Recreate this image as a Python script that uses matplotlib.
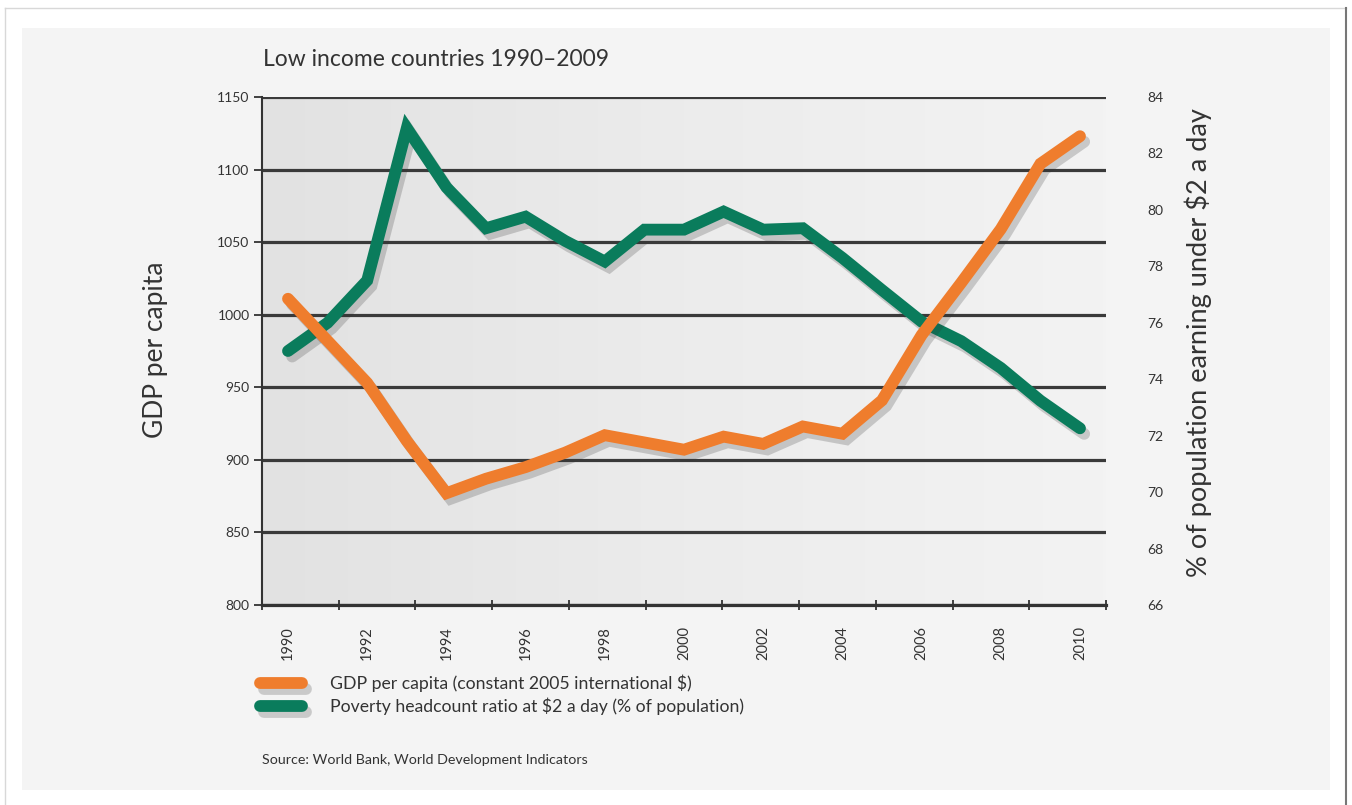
import matplotlib
matplotlib.use('Agg')
import matplotlib.pyplot as plt
import matplotlib.patheffects as pe
from matplotlib.lines import Line2D
from matplotlib.patches import Rectangle
from matplotlib.colors import LinearSegmentedColormap
import numpy as np

# ---------------- data ----------------
years = list(range(1990, 2011))
gdp_per_capita = [1011, 982, 953, 913, 877, 887, 895, 905, 917, 912, 907,
                  916, 911, 923, 918, 941, 986, 1022, 1059, 1104, 1123]
poverty_ratio = [75.0, 76.0, 77.5, 82.9, 80.8, 79.35, 79.76, 78.9, 78.17, 79.3,
                 79.3, 79.94, 79.3, 79.35, 78.3, 77.16, 76.04, 75.35, 74.4,
                 73.24, 72.26]
left_ticks = [800, 850, 900, 950, 1000, 1050, 1100, 1150]
right_ticks = [66, 68, 70, 72, 74, 76, 78, 80, 82, 84]
x_tick_years = years[::2]

title = "Low income countries 1990\u20132009"
left_label = "GDP per capita"
right_label = "% of population earning under \\$2 a day"
legend_gdp = "GDP per capita (constant 2005 international \\$)"
legend_pov = "Poverty headcount ratio at \\$2 a day (% of population)"
source = "Source: World Bank, World Development Indicators"

ORANGE = '#EF7D2D'
GREEN = '#0A7C5C'
TXT = '#333333'

plt.rcParams['font.family'] = ['Lato', 'DejaVu Sans']

W, H = 1352, 805
fig = plt.figure(figsize=(W / 100, H / 100), dpi=100)
fig.patch.set_facecolor('white')


def fx(p):
    return p / W


def fy(p):
    return 1 - p / H


# panel + frame
fig.patches.append(Rectangle((fx(22), fy(790)), fx(1330) - fx(22), (790 - 28) / H,
                             transform=fig.transFigure, facecolor='#F4F4F4',
                             edgecolor='none', zorder=-10))
fig.add_artist(Line2D([fx(5), fx(1346)], [fy(8), fy(8)], transform=fig.transFigure,
                      color='#D8D8D8', lw=1))
fig.add_artist(Line2D([fx(5), fx(5)], [fy(8), fy(805)], transform=fig.transFigure,
                      color='#D8D8D8', lw=1))
fig.add_artist(Line2D([fx(1346), fx(1346)], [fy(8), fy(805)], transform=fig.transFigure,
                      color='#777777', lw=1.5))

rect = [fx(262), fy(605), fx(1106) - fx(262), (605 - 97) / H]
px_per_year = 39.6
x0 = years[0] - 26 / px_per_year
x1 = years[-1] + 26 / px_per_year

# background axes: gradient + grid (GDP scale)
bg = fig.add_axes(rect, zorder=0)
cmap = LinearSegmentedColormap.from_list('bg', ['#E2E2E2', '#ECECEC', '#F3F3F3'])
bg.imshow(np.linspace(0, 1, 256)[None, :], extent=[x0, x1, left_ticks[0], left_ticks[-1]],
          aspect='auto', cmap=cmap, zorder=0)
bg.set_xlim(x0, x1)
bg.set_ylim(left_ticks[0], left_ticks[-1])
bg.set_yticks(left_ticks)
bg.yaxis.grid(True, color='#3A3A3A', lw=2.3)
bg.set_axisbelow(False)
bg.set_xticks([])
bg.tick_params(axis='y', length=0, labelleft=False)
for s in bg.spines.values():
    s.set_visible(False)

shadow = [pe.SimpleLineShadow(offset=(3, -4), shadow_color='#333333', alpha=0.22),
          pe.Normal()]

# poverty axis (right)
axr = fig.add_axes(rect, zorder=1)
axr.patch.set_visible(False)
axr.plot(years, poverty_ratio, color=GREEN, lw=8.5, solid_capstyle='round',
         solid_joinstyle='miter', path_effects=shadow, zorder=3)
axr.set_xlim(x0, x1)
axr.set_ylim(right_ticks[0], right_ticks[-1])
axr.set_yticks(right_ticks)
axr.yaxis.tick_right()
axr.set_xticks([])
for s in axr.spines.values():
    s.set_visible(False)
axr.tick_params(axis='y', length=0, pad=30, labelsize=10, labelcolor=TXT)

# GDP axis (left)
ax = fig.add_axes(rect, zorder=2)
ax.patch.set_visible(False)
ax.plot(years, gdp_per_capita, color=ORANGE, lw=8.5, solid_capstyle='round',
        solid_joinstyle='miter', path_effects=shadow, zorder=3)
ax.set_xlim(x0, x1)
ax.set_ylim(left_ticks[0], left_ticks[-1])
ax.set_yticks(left_ticks)
ax.tick_params(axis='y', length=6, width=1.3, color='#333333', pad=3,
               labelsize=10, labelcolor=TXT)
for side in ['top', 'right']:
    ax.spines[side].set_visible(False)
ax.spines['left'].set_color('#333333')
ax.spines['left'].set_linewidth(1.5)
ax.spines['bottom'].set_color('#333333')
ax.spines['bottom'].set_linewidth(2.3)

ax.set_xticks(x_tick_years)
ax.set_xticklabels([str(y) for y in x_tick_years], rotation=90)
ax.set_xticks(np.linspace(x0, x1, 12), minor=True)
ax.tick_params(axis='x', which='major', length=0, pad=15, labelsize=10.5, labelcolor=TXT)
ax.tick_params(axis='x', which='minor', length=7, width=1.3, direction='inout',
               color='#333333')

# texts
fig.text(fx(263), fy(60), title, fontsize=16.5, color=TXT, ha='left', va='center')
fig.text(fx(155), fy(350), left_label, rotation=90, fontsize=19, color=TXT,
         ha='center', va='center')
fig.text(fx(1198), fy(343), right_label, rotation=90, fontsize=19.5, color=TXT,
         ha='center', va='center')

# legend
for yy, col, lab in [(683, ORANGE, legend_gdp), (706, GREEN, legend_pov)]:
    fig.add_artist(Line2D([fx(260), fx(302)], [fy(yy), fy(yy)], transform=fig.transFigure,
                          color=col, lw=8.5, solid_capstyle='round', path_effects=shadow))
    fig.text(fx(330), fy(yy), lab, fontsize=12.7, color=TXT, ha='left', va='center')

fig.text(fx(262), fy(760), source, fontsize=10.3, color=TXT, ha='left', va='center')

fig.savefig('out.png', dpi=100, facecolor=fig.get_facecolor())
